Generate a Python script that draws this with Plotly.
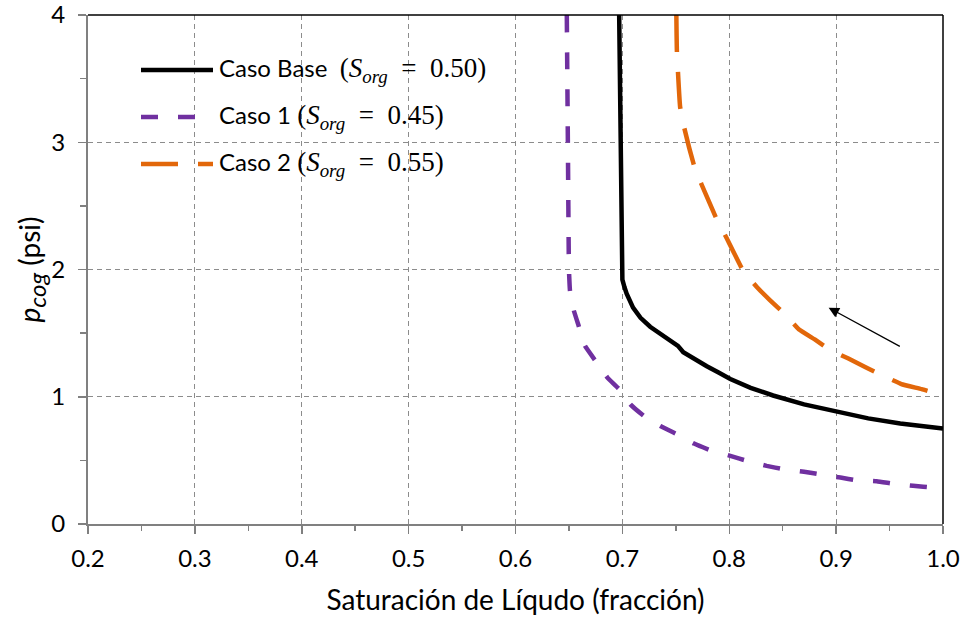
import plotly.graph_objects as go

# ---- data ----
base_x = [0.697, 0.698, 0.699, 0.700, 0.702, 0.704, 0.710, 0.717, 0.726, 0.735, 0.744, 0.748, 0.752, 0.757, 0.768, 0.779, 0.790, 0.801, 0.820, 0.841, 0.870, 0.901, 0.930, 0.960, 1.000]
base_y = [4.00, 3.00, 2.00, 1.92, 1.86, 1.81, 1.70, 1.62, 1.55, 1.50, 1.45, 1.43, 1.40, 1.35, 1.29, 1.24, 1.19, 1.14, 1.07, 1.01, 0.94, 0.88, 0.83, 0.79, 0.75]

c1_x = [0.648, 0.649, 0.650, 0.651, 0.6545, 0.659, 0.665, 0.675, 0.686, 0.697, 0.7075, 0.720, 0.7355, 0.751, 0.767, 0.782, 0.801, 0.8166, 0.835, 0.851, 0.870, 0.885, 0.904, 0.919, 0.938, 0.9535, 0.972, 0.991, 1.000]
c1_y = [4.00, 3.00, 2.00, 1.83, 1.68, 1.56, 1.40, 1.28, 1.15, 1.06, 0.94, 0.85, 0.77, 0.706, 0.632, 0.58, 0.535, 0.496, 0.457, 0.43, 0.41, 0.39, 0.365, 0.344, 0.336, 0.317, 0.30, 0.286, 0.28]

c2_x = [0.7505, 0.751, 0.754, 0.758, 0.767, 0.774, 0.788, 0.798, 0.813, 0.826, 0.838, 0.852, 0.865, 0.880, 0.894, 0.9115, 0.928, 0.944, 0.961, 0.980, 1.000]
c2_y = [4.00, 3.72, 3.28, 3.11, 2.82, 2.67, 2.40, 2.24, 1.99, 1.86, 1.76, 1.65, 1.53, 1.45, 1.37, 1.30, 1.23, 1.165, 1.10, 1.06, 1.01]

x_ticks = [0.2, 0.3, 0.4, 0.5, 0.6, 0.7, 0.8, 0.9, 1.0]
x_tick_labels = ["0.2", "0.3", "0.4", "0.5", "0.6", "0.7", "0.8", "0.9", "1.0"]
y_ticks = [0, 1, 2, 3, 4]
y_tick_labels = ["0", "1", "2", "3", "4"]

arrow_tail = (0.961, 1.39)
arrow_head = (0.893, 1.70)

series_names = ["Caso Base", "Caso 1", "Caso 2"]
series_sorg = ["0.50", "0.45", "0.55"]

# ---- styles ----
FONT = "Lato, 'Open Sans', sans-serif"
MATH = "'Liberation Serif', 'DejaVu Serif', serif"
BLACK = "#000000"
PURPLE = "#7030A0"
ORANGE = "#E2670A"
AXIS_GRAY = "#808080"
GRID_GRAY = "#8C8C8C"

fig = go.Figure()
fig.add_trace(go.Scatter(x=base_x, y=base_y, mode="lines", line=dict(color=BLACK, width=4.5),
                         showlegend=False, name=series_names[0], hoverinfo="skip"))
fig.add_trace(go.Scatter(x=c1_x, y=c1_y, mode="lines",
                         line=dict(color=PURPLE, width=4.5, dash="17px,20px", shape="spline", smoothing=0.3),
                         showlegend=False, name=series_names[1], hoverinfo="skip"))
fig.add_trace(go.Scatter(x=c2_x, y=c2_y, mode="lines",
                         line=dict(color=ORANGE, width=4.5, dash="37px,20px", shape="spline", smoothing=0.3),
                         showlegend=False, name=series_names[2], hoverinfo="skip"))

fig.update_layout(
    width=964, height=617,
    margin=dict(l=88, r=21, t=15, b=93),
    paper_bgcolor="white", plot_bgcolor="white",
    font=dict(family=FONT, size=24, color="black"),
    hovermode=False,
)

fig.update_xaxes(
    range=[0.2, 1.0], tickvals=x_ticks, ticktext=x_tick_labels,
    automargin=False, ticklabeloverflow="allow",
    showline=True, linecolor=AXIS_GRAY, linewidth=2,
    ticks="outside", ticklen=8, tickwidth=1.5, tickcolor=AXIS_GRAY,
    minor=dict(dtick=0.05, tick0=0.2, ticks="outside", ticklen=5, tickwidth=1.5, tickcolor=AXIS_GRAY, showgrid=False),
    showgrid=True, gridcolor=GRID_GRAY, gridwidth=1, griddash="5px,4px",
    zeroline=False,
    tickfont=dict(family=FONT, size=24),
    ticklabelstandoff=4,
    title=dict(text="Saturación de Líqudo (fracción)", font=dict(family=FONT, size=28), standoff=20),
)
fig.update_yaxes(
    range=[0, 4], tickvals=y_ticks, ticktext=y_tick_labels,
    automargin=False, ticklabeloverflow="allow",
    showline=True, linecolor=AXIS_GRAY, linewidth=2,
    ticks="outside", ticklen=8, tickwidth=1.5, tickcolor=AXIS_GRAY,
    minor=dict(dtick=0.5, tick0=0, ticks="outside", ticklen=6, tickwidth=1.5, tickcolor=AXIS_GRAY, showgrid=False),
    showgrid=True, gridcolor=GRID_GRAY, gridwidth=1, griddash="5px,4px",
    zeroline=False,
    tickfont=dict(family=FONT, size=24),
    ticklabelstandoff=8,
    title=dict(text="<i>p</i><sub><span style=\"font-size:24px\"><i>cog</i></span></sub> (psi)",
               font=dict(family=FONT, size=28), standoff=2),
)

# top and right plot border
fig.add_shape(type="line", xref="paper", yref="paper", x0=0, x1=1, y0=1, y1=1, line=dict(color="black", width=1.5))
fig.add_shape(type="line", xref="paper", yref="paper", x0=1, x1=1, y0=0, y1=1, line=dict(color="black", width=1.5))

# arrow
fig.add_annotation(x=arrow_head[0], y=arrow_head[1], ax=arrow_tail[0], ay=arrow_tail[1],
                   xref="x", yref="y", axref="x", ayref="y", text="", showarrow=True,
                   arrowhead=2, arrowsize=1.6, arrowwidth=1.3, arrowcolor="black")

# custom legend (positions in pixels converted to paper fractions)
plot_w = 964 - 88 - 21
plot_h = 617 - 15 - 93
def px2x(px):
    return (px - 88) / plot_w
def py2y(py):
    return (617 - 93 - py) / plot_h

legend_rows = [70, 117, 164]
legend_colors = [BLACK, PURPLE, ORANGE]
legend_dashes = ["solid", "17px,20px", "37px,20px"]
sample_x0, sample_x1 = 141, 213
for i in range(3):
    y = py2y(legend_rows[i])
    fig.add_shape(type="line", xref="paper", yref="paper",
                  x0=px2x(sample_x0), x1=px2x(sample_x1), y0=y, y1=y,
                  line=dict(color=legend_colors[i], width=4.5, dash=legend_dashes[i]))
    gap = "&nbsp;&nbsp;" if i == 0 else "&nbsp;"
    txt = (f"{series_names[i]}{gap}<span style=\"font-family:{MATH};font-size:27px\">"
           f"(<i>S</i><sub><i>org</i></sub>&nbsp;&nbsp;=&nbsp;&nbsp;{series_sorg[i]})</span>")
    fig.add_annotation(x=px2x(217), y=y, xref="paper", yref="paper", text=txt, showarrow=False,
                       xanchor="left", yanchor="middle", font=dict(family=FONT, size=24, color="black"))

fig.write_html("out.html", config={"displayModeBar": False, "staticPlot": True},
               post_script="document.body.style.margin='0';document.body.style.overflow='hidden';")
